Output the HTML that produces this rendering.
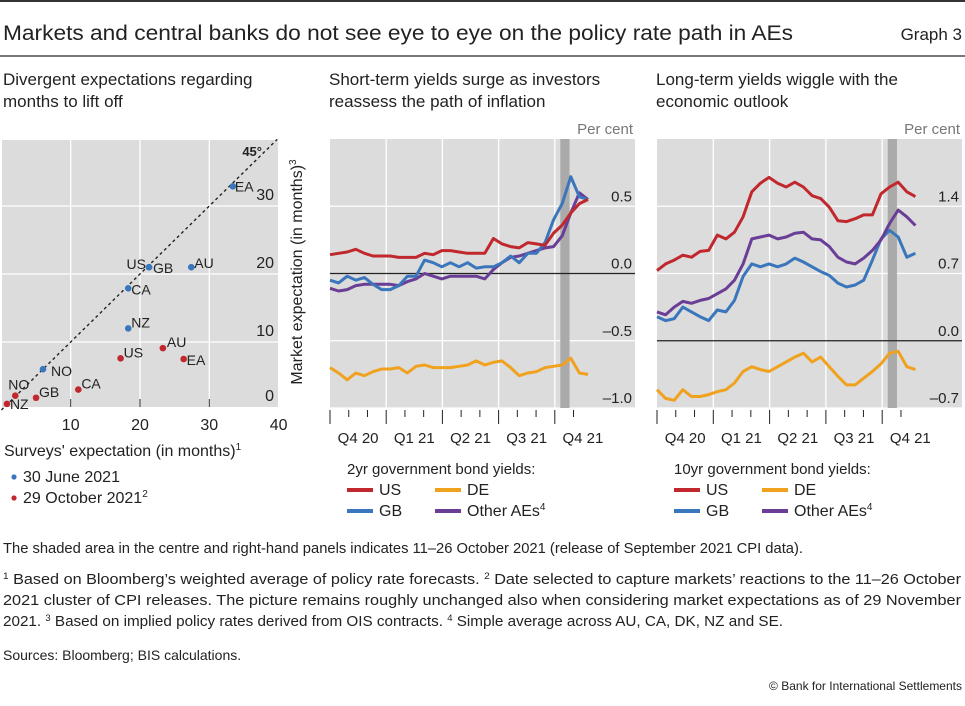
<!DOCTYPE html>
<html><head><meta charset="utf-8"><style>
html,body{margin:0;padding:0;background:#fff;}
svg text{font-family:"Liberation Sans",sans-serif;fill:#222;}
</style></head><body>
<svg id="chart" width="965" height="701" viewBox="0 0 965 701" xmlns="http://www.w3.org/2000/svg">
<line x1="0" y1="1" x2="965" y2="1" stroke="#333" stroke-width="2"/>
<text x="3" y="40" font-size="21" textLength="790" lengthAdjust="spacingAndGlyphs">Markets and central banks do not see eye to eye on the policy rate path in AEs</text>
<text x="962" y="40" font-size="17" text-anchor="end">Graph 3</text>
<line x1="0" y1="56" x2="965" y2="56" stroke="#777" stroke-width="2"/>
<text x="3" y="85" font-size="17">Divergent expectations regarding</text>
<text x="3" y="107" font-size="17">months to lift off</text>
<text x="329" y="85" font-size="17">Short-term yields surge as investors</text>
<text x="329" y="107" font-size="17">reassess the path of inflation</text>
<text x="656" y="85" font-size="17">Long-term yields wiggle with the</text>
<text x="656" y="107" font-size="17">economic outlook</text>
<g id="p1"></g><g id="p2"></g><g id="p3"></g>
<g font-size="14">
<text x="3" y="553" font-size="14.5" textLength="800" lengthAdjust="spacingAndGlyphs">The shaded area in the centre and right-hand panels indicates 11–26 October 2021 (release of September 2021 CPI data).</text>
<text x="3" y="584" font-size="14.5" textLength="958" lengthAdjust="spacingAndGlyphs"><tspan font-size="9" dy="-5">1</tspan><tspan dy="5">  Based on Bloomberg’s weighted average of policy rate forecasts.   </tspan><tspan font-size="9" dy="-5">2</tspan><tspan dy="5">  Date selected to capture markets’ reactions to the 11–26 October</tspan></text>
<text x="3" y="605" font-size="14.5" textLength="958" lengthAdjust="spacingAndGlyphs">2021 cluster of CPI releases. The picture remains roughly unchanged also when considering market expectations as of 29 November</text>
<text x="3" y="626" font-size="14.5" textLength="780" lengthAdjust="spacingAndGlyphs">2021.   <tspan font-size="9" dy="-5">3</tspan><tspan dy="5">  Based on implied policy rates derived from OIS contracts.   </tspan><tspan font-size="9" dy="-5">4</tspan><tspan dy="5">  Simple average across AU, CA, DK, NZ and SE.</tspan></text>
<text x="3" y="660" font-size="14">Sources: Bloomberg; BIS calculations.</text>
<text x="962" y="690" font-size="12" text-anchor="end">© Bank for International Settlements</text>
</g>
</svg>
<script>
// Panel 1 data
const p1Labels=["EA","GB","US","AU","CA","NZ","NO"];
const p1JuneX=[33.4,21.3,21.3,27.4,18.3,18.3,6.0];
const p1JuneY=[32.9,21.0,21.0,21.0,17.9,12.0,6.0];
const p1OctLabels=["AU","EA","US","CA","GB","NO","NZ"];
const p1OctX=[23.3,26.3,17.2,11.1,5.0,2.0,0.8];
const p1OctY=[9.1,7.5,7.6,3.0,1.8,2.1,0.9];
const p1XTicks=[10,20,30,40];
const p1YTicks=[0,10,20,30];
// Panel 2 data (biweekly from 1 Oct 2020)
const p2US=[0.14,0.15,0.16,0.18,0.15,0.13,0.13,0.13,0.12,0.12,0.12,0.15,0.14,0.17,0.17,0.16,0.15,0.15,0.15,0.26,0.22,0.20,0.19,0.23,0.22,0.21,0.30,0.36,0.45,0.52,0.55];
const p2GB=[-0.05,-0.07,-0.02,-0.05,-0.03,-0.08,-0.12,-0.12,-0.09,-0.02,-0.02,0.10,0.08,0.05,0.08,0.05,0.08,0.04,0.05,0.05,0.08,0.13,0.08,0.15,0.15,0.23,0.40,0.52,0.72,0.57,0.55];
const p2Other=[-0.11,-0.13,-0.12,-0.09,-0.08,-0.08,-0.08,-0.08,-0.09,-0.06,-0.04,0.00,-0.02,-0.04,-0.02,-0.02,-0.02,-0.02,-0.04,0.03,0.08,0.12,0.13,0.15,0.17,0.19,0.20,0.28,0.45,0.60,0.55];
const p2DE=[-0.70,-0.74,-0.79,-0.74,-0.76,-0.73,-0.71,-0.71,-0.70,-0.74,-0.69,-0.68,-0.70,-0.70,-0.70,-0.69,-0.68,-0.65,-0.68,-0.66,-0.65,-0.70,-0.76,-0.74,-0.73,-0.70,-0.69,-0.68,-0.63,-0.74,-0.75];
const p2YTicks=[0.5,0.0,-0.5,-1.0];
const p2YTickLabels=["0.5","0.0","–0.5","–1.0"];
// Panel 3 data
const p3US=[0.73,0.80,0.84,0.89,0.87,0.93,0.94,1.10,1.06,1.13,1.29,1.55,1.64,1.70,1.64,1.60,1.65,1.60,1.51,1.48,1.39,1.25,1.24,1.27,1.31,1.31,1.53,1.60,1.65,1.55,1.50];
const p3GB=[0.25,0.21,0.23,0.35,0.30,0.25,0.21,0.32,0.30,0.42,0.67,0.80,0.77,0.80,0.77,0.80,0.86,0.82,0.77,0.72,0.68,0.60,0.56,0.58,0.63,0.84,1.06,1.15,1.08,0.87,0.91];
const p3Other=[0.30,0.27,0.35,0.41,0.39,0.42,0.44,0.49,0.54,0.63,0.80,1.06,1.08,1.10,1.06,1.08,1.12,1.13,1.06,1.05,0.98,0.87,0.82,0.80,0.86,0.94,1.05,1.22,1.36,1.29,1.20];
const p3DE=[-0.51,-0.60,-0.62,-0.51,-0.58,-0.58,-0.56,-0.53,-0.51,-0.44,-0.32,-0.27,-0.30,-0.32,-0.27,-0.22,-0.17,-0.13,-0.22,-0.17,-0.27,-0.37,-0.46,-0.46,-0.39,-0.32,-0.24,-0.13,-0.11,-0.27,-0.30];
const p3YTicks=[1.4,0.7,0.0,-0.7];
const p3YTickLabels=["1.4","0.7","0.0","–0.7"];
const qLabels=["Q4 20","Q1 21","Q2 21","Q3 21","Q4 21"];

const NS="http://www.w3.org/2000/svg";
function mk(parent,tag,attrs){const e=document.createElementNS(NS,tag);for(const k in attrs)e.setAttribute(k,attrs[k]);parent.appendChild(e);return e;}
const C={US:"#c0282d",GB:"#3a76bb",DE:"#f0a21f",OT:"#6a3d96"};

// ---- Panel 1
(function(){
 const g=document.getElementById('p1');
 const L=2,R=278,T=140,B=407;
 const sx=v=>1.4+v*6.93, sy=v=>410-v*6.8;
 let bg=mk(g,'rect',{x:L,y:T,width:R-L,height:B-T,fill:'#dcdcdc'});
 
 p1XTicks.forEach(t=>{ if(t<40){let l=mk(g,'line',{x1:sx(t),y1:T,x2:sx(t),y2:B,stroke:'#fff','stroke-width':1.3});
   let tk=mk(g,'line',{x1:sx(t),y1:B-8,x2:sx(t),y2:B,stroke:'#333','stroke-width':1});}
   let tx=mk(g,'text',{x:sx(t),y:430,'font-size':16,'text-anchor':'middle'});tx.textContent=t;});
 p1YTicks.forEach(t=>{ if(t>0){let l=mk(g,'line',{x1:L,y1:sy(t),x2:R,y2:sy(t),stroke:'#fff','stroke-width':1.3});}
   let tx=mk(g,'text',{x:274,y:Math.min(sy(t),404)+(t>0?-6:-3),'font-size':16,'text-anchor':'end'});tx.textContent=t;});
 let d=mk(g,'line',{x1:sx(0),y1:sy(0),x2:sx(39.8),y2:sy(39.8),stroke:'#222','stroke-width':1.4,'stroke-dasharray':'3,3'});
 
 let d45=mk(g,'text',{x:262,y:156,'font-size':13,'font-weight':'bold','text-anchor':'end'});d45.textContent='45°';
 function pts(xs,ys,labs,col,nm){xs.forEach((x,i)=>{let c=mk(g,'circle',{cx:sx(x),cy:sy(ys[i]),r:3.3,fill:col});});}
 pts(p1JuneX,p1JuneY,p1Labels,'#3a76bb','june');
 pts(p1OctX,p1OctY,p1OctLabels,'#c0282d','october');
 const lab=(t,x,y,a)=>{let e=mk(g,'text',{x:x,y:y,'font-size':14,'text-anchor':a||'start'});e.textContent=t;};
 lab('EA',sx(33.4)+2,sy(32.9)+5);lab('GB',sx(21.3)+4,sy(21)+6);lab('US',sx(21.3)-3,sy(21)+2,'end');lab('AU',sx(27.4)+3,sy(21)+1);
 lab('CA',sx(18.3)+3,sy(17.9)+6);lab('NZ',sx(18.3)+3,sy(12)-1);lab('NO',sx(6)+8,sy(6)+7);
 lab('AU',sx(23.3)+4,sy(9.1)-1);lab('EA',sx(26.3)+3,sy(7.5)+6);lab('US',sx(17.2)+3,sy(7.6)-1);lab('CA',sx(11.1)+3,sy(3)-1);
 lab('GB',sx(5)+3,sy(1.8)-1);lab('NO',sx(2)-7,sy(2.1)-6);lab('NZ',sx(0.8)+3,sy(0.9)+5);
 let yt=mk(g,'text',{transform:'translate(302,272) rotate(-90)','font-size':16,'text-anchor':'middle'});
 yt.innerHTML='Market expectation (in months)<tspan font-size="10" dy="-6">3</tspan>';
 let xt=mk(g,'text',{x:4,y:456,'font-size':16});xt.innerHTML='Surveys\' expectation (in months)<tspan font-size="10" dy="-6">1</tspan>';
 
 [['#3a76bb','30 June 2021',''],['#c0282d','29 October 2021','2']].forEach((it,i)=>{
  let c=mk(g,'circle',{cx:14,cy:477+i*21,r:2.6,fill:it[0]});
  let t=mk(g,'text',{x:23,y:482+i*21,'font-size':16});t.innerHTML=it[1]+(it[2]?'<tspan font-size="10" dy="-6">'+it[2]+'</tspan>':'');});
})();

// ---- Time panels
function timePanel(id,L,R,yTop,yBot,ticks,tickLabels,series,legendTitle,lx,qw){
 const g=document.getElementById(id);
 const T=139,B=408;
 const dayPx=qw/91.5;
 const sx=day=>L+day*dayPx;
 const sy=v=>T+(yTop-v)/(yTop-yBot)*(B-T);
 let bg=mk(g,'rect',{x:L,y:T,width:R-L,height:B-T,fill:'#dcdcdc'});
 for(let q=1;q<=4;q++){let l=mk(g,'line',{x1:L+q*qw,y1:T,x2:L+q*qw,y2:B,stroke:'#fff','stroke-width':1.3});}
 ticks.forEach((t,i)=>{ if(Math.abs(t)>1e-9){let l=mk(g,'line',{x1:L,y1:sy(t),x2:R,y2:sy(t),stroke:'#fff','stroke-width':1.3});}
  let tx=mk(g,'text',{x:R-3,y:sy(t)-5,'font-size':15,'text-anchor':'end'});tx.textContent=tickLabels[i];});
 let sh=mk(g,'rect',{x:sx(375),y:T,width:15*dayPx,height:B-T,fill:'#aaa'});
 let z=mk(g,'line',{x1:L,y1:sy(0),x2:R,y2:sy(0),stroke:'#222','stroke-width':1.3});
 series.forEach(s=>{const d=s.v.map((v,i)=>(i?'L':'M')+sx(i*14).toFixed(1)+','+sy(v).toFixed(1)).join(' ');
  let p=mk(g,'path',{d:d,fill:'none',stroke:s.c,'stroke-width':3,'stroke-linejoin':'round'});});
 let pc=mk(g,'text',{x:R-2,y:134,'font-size':15,'text-anchor':'end'});pc.setAttribute('style','fill:#777');pc.textContent='Per cent';
 for(let m=0;m<=13;m++){const x=L+m*qw/3;const big=m%3===0;let t=mk(g,'line',{x1:x,y1:B+2,x2:x,y2:B+(big?16:9),stroke:'#222','stroke-width':1});}
 qLabels.forEach((q,i)=>{let t=mk(g,'text',{x:L+(i+0.5)*qw,y:443,'font-size':15,'text-anchor':'middle'});t.textContent=q;});
 let lt=mk(g,'text',{x:lx,y:474,'font-size':15});lt.textContent=legendTitle;
 [[0,0,C.US,'US',''],[1,0,C.DE,'DE',''],[0,1,C.GB,'GB',''],[1,1,C.OT,'Other AEs','4']].forEach(it=>{
  const x=lx+it[0]*88,y=493+it[1]*21;
  let r=mk(g,'rect',{x:x,y:y-5,width:26,height:4,fill:it[2]});
  let t=mk(g,'text',{x:x+32,y:y+2,'font-size':16});t.innerHTML=it[3]+(it[4]?'<tspan font-size="10" dy="-6">'+it[4]+'</tspan>':'');});
}
timePanel('p2',330,635,1.0,-1.0,p2YTicks,p2YTickLabels,
 [{v:p2DE,c:C.DE,n:'de-2yr-line'},{v:p2Other,c:C.OT,n:'other-aes-2yr-line'},{v:p2GB,c:C.GB,n:'gb-2yr-line'},{v:p2US,c:C.US,n:'us-2yr-line'}],
 '2yr government bond yields:',347,56.2);
timePanel('p3',657,962,2.1,-0.7,p3YTicks,p3YTickLabels,
 [{v:p3DE,c:C.DE,n:'de-10yr-line'},{v:p3GB,c:C.GB,n:'gb-10yr-line'},{v:p3Other,c:C.OT,n:'other-aes-10yr-line'},{v:p3US,c:C.US,n:'us-10yr-line'}],
 '10yr government bond yields:',674,56.3);
</script>
</body></html>
